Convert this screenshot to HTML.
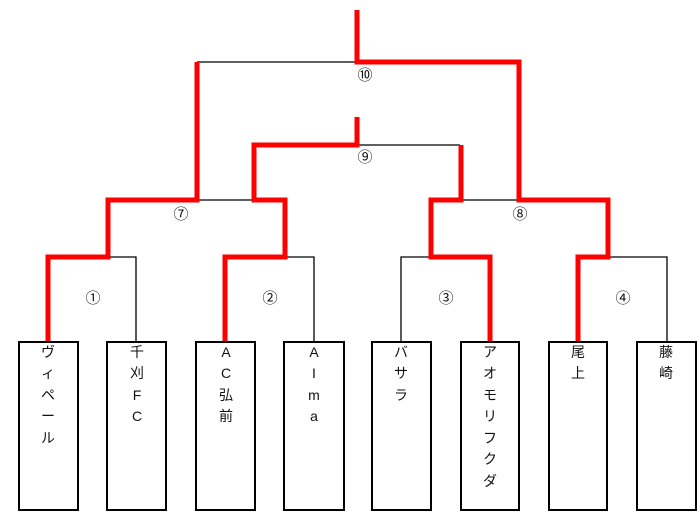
<!DOCTYPE html>
<html><head><meta charset="utf-8"><style>
html,body{margin:0;padding:0;background:#fff;}
svg{display:block;}
text{font-family:"Liberation Sans","Noto Sans CJK JP",sans-serif;font-size:14px;fill:#111;}
.num text{font-family:"Noto Sans CJK JP",sans-serif;font-size:15px;}
</style></head><body>
<svg width="700" height="516" viewBox="0 0 700 516">
<g fill="none" stroke="#000" stroke-width="1.3">
<polyline points="108,257 136,257 136,342"/>
<polyline points="285,257 314,257 314,342"/>
<polyline points="431,257 401,257 401,342"/>
<polyline points="608,257 667,257 667,342"/>
<line x1="197" y1="200" x2="253" y2="200"/>
<line x1="461" y1="200" x2="518" y2="200"/>
<line x1="357" y1="145" x2="460" y2="145"/>
<line x1="197" y1="62" x2="357" y2="62"/>
</g>
<g fill="none" stroke="#ff0000" stroke-width="5" stroke-linejoin="miter">
<polyline points="48,342 48,257 108,257 108,200 197,200 197,62"/>
<polyline points="225,342 225,257 285,257 285,200 254,200 254,145 357,145 357,117"/>
<polyline points="490,342 490,257 431,257 431,200 461,200 461,145"/>
<polyline points="578,342 578,257 608,257 608,200 519,200 519,62 357,62 357,10"/>
</g>
<g fill="none" stroke="#000" stroke-width="2">
<rect x="19" y="342" width="59" height="168"/>
<rect x="107" y="342" width="59" height="168"/>
<rect x="196" y="342" width="59" height="168"/>
<rect x="284" y="342" width="60" height="168"/>
<rect x="372" y="342" width="59" height="168"/>
<rect x="461" y="342" width="58" height="168"/>
<rect x="549" y="342" width="58" height="168"/>
<rect x="637" y="342" width="59" height="168"/>
</g>
<g text-anchor="middle" class="num">
<text x="365" y="80">⑩</text>
<text x="365" y="162">⑨</text>
<text x="181" y="219">⑦</text>
<text x="520" y="219">⑧</text>
<text x="93" y="303">①</text>
<text x="270" y="303">②</text>
<text x="446" y="303">③</text>
<text x="623" y="303">④</text>
</g>
<g text-anchor="middle">
<text x="48" y="357">ヴ</text><text x="48" y="378">ィ</text><text x="48" y="400">ペ</text><text x="48" y="421">ー</text><text x="48" y="443">ル</text>
<text x="137" y="357">千</text><text x="137" y="378">刈</text><text x="137" y="400">F</text><text x="137" y="421">C</text>
<text x="226" y="357">A</text><text x="226" y="378">C</text><text x="226" y="400">弘</text><text x="226" y="421">前</text>
<text x="314" y="357">A</text><text x="314" y="378">I</text><text x="314" y="400">m</text><text x="314" y="421">a</text>
<text x="401" y="357">バ</text><text x="401" y="378">サ</text><text x="401" y="400">ラ</text>
<text x="490" y="357">ア</text><text x="490" y="378">オ</text><text x="490" y="400">モ</text><text x="490" y="421">リ</text><text x="490" y="443">フ</text><text x="490" y="464">ク</text><text x="490" y="486">ダ</text>
<text x="578" y="357">尾</text><text x="578" y="378">上</text>
<text x="666" y="357">藤</text><text x="666" y="378">崎</text>
</g>
</svg>
</body></html>
